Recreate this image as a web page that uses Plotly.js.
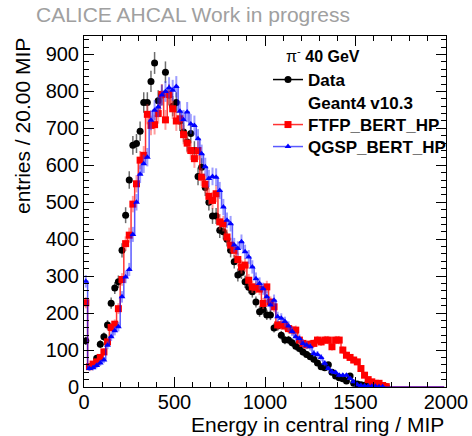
<!DOCTYPE html>
<html>
<head>
<meta charset="utf-8">
<script src="https://cdn.plot.ly/plotly-3.0.1.min.js"></script>
<style>html,body{margin:0;padding:0;background:#fff;}#plot{width:472px;height:436px;}</style>
</head>
<body>
<div id="plot"></div>
<script>
// Histogram binning (MIP)
const binStart = 0;
const binWidth = 20;

// Data (entries per 20 MIP bin, bins 0-20, 20-40, ...)
const dataCounts = [
 125, 55, 60, 78, 116, 136, 168, 227, 268, 285,
 370, 465, 560, 654, 659, 692, 770, 770, 827, 877,
 775, 790, 852, 790, 760, 770, 720, 690, 663, 686,
 640, 570, 595, 540, 500, 463, 463, 424, 420, 400,
 370, 339, 303, 310, 285, 270, 258, 230, 204, 210,
 195, 195, 160, 165, 140, 127, 127, 120, 110, 104,
 95, 88, 82, 75, 65, 55, 52, 60, 40, 30,
 25, 22, 16, 30, 10, 8, 6, 5, 4, 3,
 3, 2, 1, 1, 0, 0, 0, 0, 0, 0,
 0, 0, 0, 0, 0, 0, 0, 0, 0, 0
];

// Geant4 v10.3 FTFP_BERT_HP
const ftfpCounts = [
 228, 55, 62, 68, 80, 95, 122, 161, 170, 212,
 291, 388, 411, 495, 550, 614, 627, 738, 708, 710,
 740, 792, 723, 792, 753, 720, 726, 683, 660, 640,
 618, 640, 568, 549, 516, 505, 523, 447, 442, 406,
 384, 370, 345, 325, 330, 289, 271, 270, 265, 226,
 271, 230, 217, 168, 168, 165, 158, 154, 154, 127,
 118, 114, 116, 118, 127, 122, 127, 127, 109, 127,
 127, 100, 86, 80, 73, 68, 50, 32, 20, 14,
 10, 10, 4, 1, 0, 0, 0, 0, 0, 0,
 0, 0, 0, 0, 0, 0, 0, 0, 0, 0
];

// Geant4 v10.3 QGSP_BERT_HP
const qgspCounts = [
 286, 50, 52, 58, 65, 73, 113, 136, 152, 163,
 244, 298, 318, 413, 500, 576, 604, 622, 722, 749,
 758, 790, 800, 810, 803, 813, 746, 723, 744, 712,
 708, 672, 631, 596, 564, 570, 568, 532, 487, 451,
 442, 384, 375, 393, 366, 352, 325, 293, 280, 266,
 244, 222, 235, 190, 186, 177, 165, 150, 136, 131,
 118, 113, 109, 91, 88, 80, 64, 50, 41, 39,
 32, 32, 32, 23, 14, 6, 4, 3, 3, 2,
 2, 1, 1, 0, 0, 0, 0, 0, 0, 0,
 0, 0, 0, 0, 0, 0, 0, 0, 0, 0
];

const seriesNames = ['Data', 'Geant4 v10.3', 'FTFP_BERT_HP', 'QGSP_BERT_HP'];
const xTickVals = [0, 500, 1000, 1500, 2000];
const yTickVals = [0, 100, 200, 300, 400, 500, 600, 700, 800, 900];

const FONT = 'Liberation Sans, Arial, Helvetica, sans-serif';
const x0 = binStart + binWidth / 2;
const nz = arr => arr.map(v => v > 0 ? v : null);

const RED_LINE = 'rgba(255,0,0,0.8)';
const BLUE_LINE = 'rgba(0,0,255,0.65)';

const traces = [
  // data points
  {
    type: 'scatter', mode: 'markers', showlegend: false,
    x0: x0, dx: binWidth, y: nz(dataCounts),
    marker: {symbol: 'circle', size: 7, color: '#000'},
    error_y: {type: 'sqrt', color: 'rgba(60,60,60,0.75)', thickness: 1.5, width: 0}
  },
  // FTFP histogram line
  {
    type: 'scatter', mode: 'lines', showlegend: false,
    x0: x0, dx: binWidth, y: ftfpCounts,
    line: {shape: 'hvh', color: RED_LINE, width: 1.5}
  },
  // FTFP markers + errors
  {
    type: 'scatter', mode: 'markers', showlegend: false,
    x0: x0, dx: binWidth, y: nz(ftfpCounts),
    marker: {symbol: 'square', color: '#ff0000', size: 7},
    error_y: {type: 'sqrt', color: 'rgba(255,60,60,0.5)', thickness: 2, width: 0}
  },
  // QGSP histogram line
  {
    type: 'scatter', mode: 'lines', showlegend: false,
    x0: x0, dx: binWidth, y: qgspCounts,
    line: {shape: 'hvh', color: BLUE_LINE, width: 1.5}
  },
  // QGSP markers + errors
  {
    type: 'scatter', mode: 'markers', showlegend: false,
    x0: x0, dx: binWidth, y: nz(qgspCounts),
    marker: {symbol: 'triangle-up', color: '#0000ff', size: 6},
    error_y: {type: 'sqrt', color: 'rgba(60,60,255,0.5)', thickness: 2, width: 0}
  },
  // legend entries (one legend box per row)
  {
    name: seriesNames[0], legend: 'legend', type: 'scatter', mode: 'lines+markers', x: [null], y: [null],
    line: {color: '#000', width: 1.5}, marker: {symbol: 'circle', size: 7, color: '#000'}
  },
  {
    name: seriesNames[1], legend: 'legend2', type: 'scatter', mode: 'lines', x: [null], y: [null],
    line: {width: 0, color: 'rgba(0,0,0,0)'}
  },
  {
    name: seriesNames[2], legend: 'legend3', type: 'scatter', mode: 'lines+markers', x: [null], y: [null],
    line: {color: RED_LINE, width: 1.5}, marker: {symbol: 'square', size: 7, color: '#ff0000'}
  },
  {
    name: seriesNames[3], legend: 'legend4', type: 'scatter', mode: 'lines+markers', x: [null], y: [null],
    line: {color: BLUE_LINE, width: 1.5}, marker: {symbol: 'triangle-up', size: 6, color: '#0000ff'}
  }
];

const axisCommon = {
  showline: true, linecolor: '#000', linewidth: 1, mirror: 'ticks',
  ticks: 'inside', ticklen: 10, tickwidth: 1, tickcolor: '#000',
  showgrid: false, zeroline: false,
  tickfont: {family: FONT, size: 20, color: '#000'}
};

const legendAt = yPx => ({
  x: (268 - 84) / 362, xanchor: 'left',
  y: 1 - (yPx - 36) / 351, yanchor: 'middle',
  bgcolor: 'rgba(0,0,0,0)', borderwidth: 0,
  font: {family: FONT, size: 17, color: '#000', weight: 'bold'}
});

const layout = {
  width: 472, height: 436,
  margin: {l: 84, r: 26, t: 36, b: 49, pad: 0},
  paper_bgcolor: '#fff', plot_bgcolor: '#fff',
  showlegend: true,
  title: {
    text: 'CALICE AHCAL Work in progress',
    font: {family: FONT, size: 21, color: '#a0a0a0'},
    xref: 'container', yref: 'container',
    x: 36 / 472, xanchor: 'left', y: 1 - 15 / 436, yanchor: 'middle'
  },
  xaxis: Object.assign({}, axisCommon, {
    range: [0, 2000], tickvals: xTickVals, ticktext: xTickVals.map(String),
    ticklabelstandoff: -3,
    minor: {dtick: 100, ticklen: 5, ticks: 'inside', tickcolor: '#000', showgrid: false}
  }),
  yaxis: Object.assign({}, axisCommon, {
    range: [0, 950], tickvals: yTickVals, ticktext: yTickVals.map(String),
    minor: {dtick: 20, ticklen: 5, ticks: 'inside', tickcolor: '#000', showgrid: false}
  }),
  legend: legendAt(80),
  legend2: legendAt(102.5),
  legend3: legendAt(125),
  legend4: legendAt(147),
  annotations: [
    {
      text: 'π<sup>-</sup> <b>40 GeV</b>', xref: 'paper', yref: 'paper',
      x: (284 - 84) / 362, xanchor: 'left', y: 1 - (55 - 36) / 351, yanchor: 'middle',
      showarrow: false, font: {family: FONT, size: 16, color: '#000'}
    },
    {
      text: 'Energy in central ring / MIP', xref: 'paper', yref: 'paper',
      x: 1, xanchor: 'right', y: -(424 - 387) / 351, yanchor: 'middle',
      showarrow: false, font: {family: FONT, size: 21, color: '#000'}
    },
    {
      text: 'entries / 20.00 MIP', xref: 'paper', yref: 'paper', textangle: -90,
      x: (22 - 84) / 362, xanchor: 'center', y: 1, yanchor: 'top',
      showarrow: false, font: {family: FONT, size: 21, color: '#000'}
    }
  ]
};

Plotly.newPlot('plot', traces, layout, {staticPlot: true, displayModeBar: false});
</script>
</body>
</html>
